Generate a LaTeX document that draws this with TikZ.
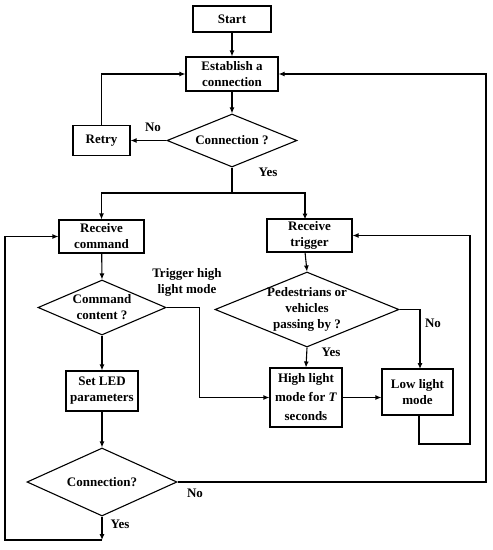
\documentclass[tikz,border=0pt]{standalone}
\usepackage{fontspec}
\setmainfont{Liberation Serif}
\usetikzlibrary{arrows.meta,shapes.geometric}
\begin{document}
\begin{tikzpicture}[x=1pt,y=-1pt,
  every node/.style={font=\fontsize{13}{16}\selectfont\bfseries},
  box/.style={draw,line width=1.1pt,rectangle,inner sep=0pt,align=center},
  dia/.style={draw,line width=1.1pt,diamond,inner sep=0pt},
  txt/.style={align=center,inner sep=0pt},
  lbl/.style={inner sep=0pt},
  conn/.style={line width=1.1pt},
  arr/.style={conn,-{Latex[length=6pt,width=5pt]}}]
\useasboundingbox (0,0) rectangle (493,550);
% nodes
\node[box,minimum width=78pt,minimum height=26pt] (start) at (232,19) {Start};
\node[box,minimum width=92pt,minimum height=34pt] (est) at (232,74) {Establish a\\connection};
\node[dia,minimum width=130pt,minimum height=53pt] (c1) at (232,140.5) {};
\node[txt] at (c1) {Connection ?};
\node[box,minimum width=57pt,minimum height=30pt] (retry) at (101.5,140.5) {Retry};
\node[box,minimum width=85pt,minimum height=33pt] (rcmd) at (101.5,236.5) {Receive\\command};
\node[dia,minimum width=128pt,minimum height=55pt] (cmd) at (102,307.5) {};
\node[txt] at (cmd) {Command\\content ?};
\node[box,minimum width=72pt,minimum height=40pt] (led) at (102,391) {Set LED\\parameters};
\node[dia,minimum width=150pt,minimum height=68pt] (c2) at (102,482) {};
\node[txt] at (c2) {Connection?};
\node[box,minimum width=85pt,minimum height=33pt] (rtrig) at (309.5,235.5) {Receive\\trigger};
\node[dia,minimum width=184pt,minimum height=75pt] (ped) at (307,309.5) {};
\node[txt] at (ped) {Pedestrians or\\vehicles\\passing by ?};
\node[box,minimum width=72pt,minimum height=59pt,font=\fontsize{13}{19}\selectfont\bfseries] (high) at (306,397.5) {High light\\mode for \textit{T}\\seconds};
\node[box,minimum width=71pt,minimum height=46pt] (low) at (417.5,392) {Low light\\mode};
% coordinates
\coordinate (split) at (232,193);
\coordinate (rl) at (470,444);
\coordinate (bl) at (102,540);
\coordinate (lft) at (5,540);
\coordinate (rgt) at (486,482);
% labels
\node[lbl] at (153,127) {No};
\node[lbl] at (268,172) {Yes};
\node[lbl,align=center] at (187,282) {Trigger high\\light mode};
\node[lbl] at (433,323) {No};
\node[lbl] at (331,352) {Yes};
\node[lbl] at (195,493) {No};
\node[lbl] at (120,524) {Yes};
% connectors
\draw[arr] (start) -- (est);
\draw[arr] (est) -- (c1.north);
\draw[arr] (c1.west) -- (retry);
\draw[arr] (retry.north) |- (est.west);
\draw[conn] (c1.south) -- (split);
\draw[arr] (split) -| (rcmd.north);
\draw[arr] (split) -| (305,219.5);
\draw[arr] (rcmd) -- (cmd.north);
\draw[arr] (cmd.south) -- (led);
\draw[arr] (led) -- (c2.north);
\draw[arr] (cmd.east) -- ++(33,0) |- (high.west);
\draw[arr] (305,252) -- (ped.north);
\draw[arr] (ped.south) -- (high.north);
\draw[arr] (ped.east) -| (420,369);
\draw[arr] (high.east) -- (high.east -| low.west);
\draw[arr] (419,415) |- (rl) |- (rtrig.east);
\draw[arr] (c2.east) -- (rgt) |- (est.east);
\draw[arr] (c2.south) -- (bl);
\draw[arr] (bl) -- (lft) |- (rcmd.west);
\end{tikzpicture}
\end{document}
